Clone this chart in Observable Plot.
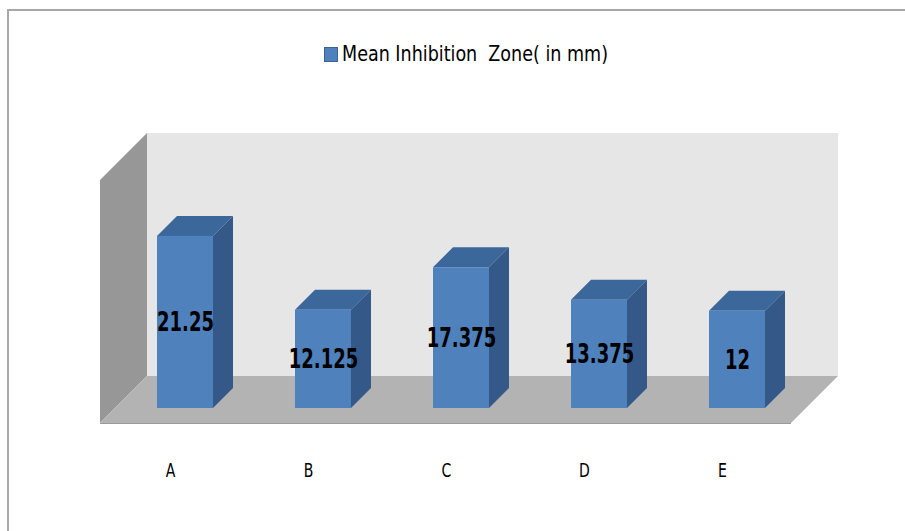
<!DOCTYPE html>
<html><head><meta charset="utf-8">
<script src="https://cdn.jsdelivr.net/npm/d3@7"></script>
<script src="https://cdn.jsdelivr.net/npm/@observablehq/plot@0.6"></script>
<style>
body{margin:0;background:#fff;}
#wrap{position:relative;width:905px;height:531px;overflow:hidden;background:#fff;font-family:"Liberation Sans Narrow","DejaVu Sans Condensed","Arial Narrow",sans-serif;}
#border{position:absolute;left:7px;top:9px;width:1000px;height:1000px;border-left:2px solid #a8a8a8;border-top:2px solid #a8a8a8;}
#legend{position:absolute;left:0;top:0;width:905px;height:100px;}
#legend .sw{position:absolute;left:324px;top:47px;width:12px;height:13px;background:#4f81bd;border:1px solid #3a6490;}
#legend .tx{position:absolute;left:342px;top:42px;font-size:21px;line-height:24px;color:#000;white-space:pre;transform-origin:0 50%;}
#chart{position:absolute;left:0;top:100px;}
</style>
</head><body>
<div id="wrap">
  <div id="border"></div>
  <div id="legend"><div class="sw"></div><div class="tx" id="legtext"></div></div>
  <div id="chart"></div>
</div>
<script>
// ---- data ----
const categories = ["A", "B", "C", "D", "E"];
const values = [21.25, 12.125, 17.375, 13.375, 12];
const labels = ["21.25", "12.125", "17.375", "13.375", "12"];
const seriesName = "Mean Inhibition  Zone( in mm)";
const yMax = 30;

const leg = document.getElementById("legtext");
leg.textContent = seriesName;
{
  const w = leg.getBoundingClientRect().width;
  leg.style.transform = "scaleX(" + (266 / w) + ")";
}

const FRONT = "#4f81bd", TOP = "#3c679a", SIDE = "#345988";
const D1 = 15, D2 = 32, DB = 20;

function polyPts(pts) { return pts.map(p => p.join(",")).join(" "); }

function walls(index, scales, values_, dims) {
  const {width, marginLeft, marginRight} = dims;
  const xl = marginLeft, xr = width - marginRight;
  const yt = scales.y(yMax), yb = scales.y(0);
  const g = d3.create("svg:g");
  g.append("polygon").attr("points", polyPts([[xl + D2, yt - D2], [xr + D2, yt - D2], [xr + D2, yb - D2], [xl + D2, yb - D2]])).attr("fill", "#e6e6e6");
  g.append("polygon").attr("points", polyPts([[xl - D1, yt + D1], [xl + D2, yt - D2], [xl + D2, yb - D2], [xl - D1, yb + D1]])).attr("fill", "#979797");
  g.append("polygon").attr("points", polyPts([[xl - D1, yb + D1], [xl + D2, yb - D2], [xr + D2, yb - D2], [xr - D1, yb + D1]])).attr("fill", "#b3b3b3");
  g.append("line").attr("x1", xl - D1).attr("x2", xr - D1).attr("y1", yb + D1 + 0.5).attr("y2", yb + D1 + 0.5).attr("stroke", "#9a9a9a").attr("stroke-width", 1);
  return g.node();
}

function extrude(index, scales) {
  const g = d3.create("svg:g");
  const bw = scales.x.bandwidth();
  const yb = scales.y(0);
  categories.forEach((c, i) => {
    const x0 = scales.x(c), x1 = x0 + bw, yv = scales.y(values[i]);
    g.append("polygon").attr("points", polyPts([[x0, yv], [x0 + DB, yv - DB], [x1 + DB, yv - DB], [x1, yv]])).attr("fill", TOP);
    g.append("polygon").attr("points", polyPts([[x1, yv], [x1 + DB, yv - DB], [x1 + DB, yb - DB], [x1, yb]])).attr("fill", SIDE);
  });
  return g.node();
}

const rows = categories.map((c, i) => ({cat: c, value: values[i], label: labels[i]}));

const chart = Plot.plot({
  width: 905,
  height: 431,
  marginLeft: 115,
  marginRight: 99,
  marginTop: 65,
  marginBottom: 123,
  style: {fontFamily: '"Liberation Sans Narrow","DejaVu Sans Condensed","Arial Narrow",sans-serif', background: "transparent", color: "#000"},
  x: {domain: categories, paddingInner: 0.595, paddingOuter: 0.2975, label: null},
  y: {domain: [0, yMax], axis: null},
  marks: [
    walls,
    extrude,
    Plot.barY(rows, {x: "cat", y: "value", fill: FRONT}),
    Plot.text(rows, {x: "cat", y: d => d.value / 2, text: "label", fontSize: 27, fontWeight: "bold", fill: "#000"}),
    Plot.axisX({tickSize: 0, tickPadding: 54, dx: -15, fontSize: 20, label: null})
  ]
});
document.getElementById("chart").appendChild(chart);

// condense text to mimic the narrow original typeface
d3.select(chart).selectAll('g[aria-label="text"] text').each(function() {
  const w = this.getComputedTextLength();
  this.setAttribute("textLength", (w * 0.74).toFixed(1));
  this.setAttribute("lengthAdjust", "spacingAndGlyphs");
});
d3.select(chart).selectAll('g[aria-label="x-axis tick label"] text').each(function() {
  const w = this.getComputedTextLength();
  this.setAttribute("textLength", (w * 0.78).toFixed(1));
  this.setAttribute("lengthAdjust", "spacingAndGlyphs");
});
</script>
</body></html>
